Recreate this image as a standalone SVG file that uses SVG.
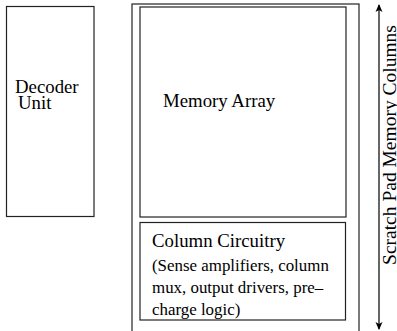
<svg xmlns="http://www.w3.org/2000/svg" width="397" height="331" viewBox="0 0 397 331">
<style>
.box{fill:none;stroke:#222;stroke-width:1.2}
.d{font-family:'Liberation Serif','DejaVu Serif',serif;font-size:18.8px;fill:#000}
.s{font-family:'Liberation Serif','DejaVu Serif',serif;font-size:16.9px;fill:#000}
.v{font-family:'Liberation Serif','DejaVu Serif',serif;font-size:19.5px;fill:#000}
.c{stroke:#000;stroke-width:1.2;fill:none}
</style>
<defs>
<marker id="ah" markerWidth="8" markerHeight="10" refX="7" refY="5" orient="auto" markerUnits="userSpaceOnUse">
<path d="M0,1.5 L8,5 L0,8.5 L2,5 Z" fill="#000"/>
</marker>
</defs>
<rect width="397" height="331" fill="#fff"/>
<g id="decoder">
<rect class="box" x="6.5" y="6.5" width="87.5" height="210"/>
<text class="d" x="15" y="93">Decoder</text>
<text class="d" x="18" y="109">Unit</text>
</g>
<g id="scratchpad">
<rect class="box" x="132" y="4" width="227" height="340"/>
</g>
<g id="memory-array">
<rect class="box" x="140" y="7" width="206" height="210"/>
<text class="d" x="163" y="107">Memory Array</text>
</g>
<g id="column-circuitry">
<rect class="box" x="140" y="222.5" width="205.5" height="97.5"/>
<text class="d" x="152" y="247">Column Circuitry</text>
<text class="s" x="152" y="270.5">(Sense amplifiers, column</text>
<text class="s" x="152" y="293">mux, output drivers, pre–</text>
<text class="s" x="152" y="315">charge logic)</text>
</g>
<g id="connectors">
<line class="c" x1="379" y1="166" x2="379" y2="5" marker-end="url(#ah)"/>
<line class="c" x1="379" y1="166" x2="379" y2="329" marker-end="url(#ah)"/>
</g>
<g id="label">
<text class="v" transform="translate(396,145) rotate(-90)" text-anchor="middle">Scratch Pad Memory Columns</text>
</g>
</svg>
